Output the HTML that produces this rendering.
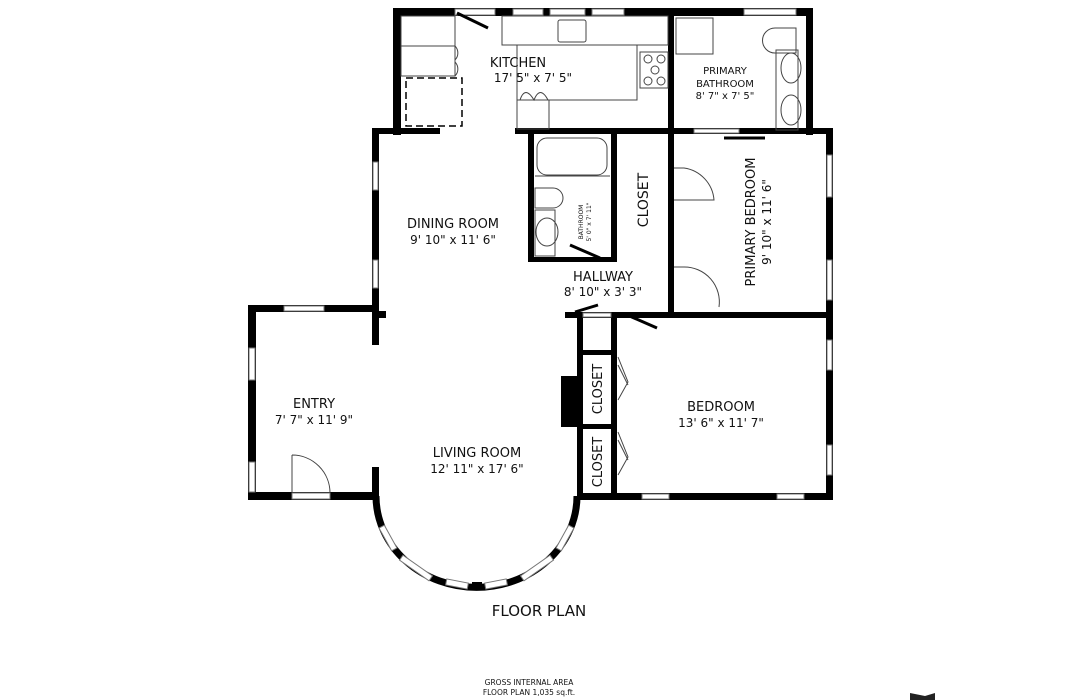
<!DOCTYPE html>
<html><head><style>
html,body{margin:0;padding:0;background:#fff;}
svg{display:block;}
text{font-family:"DejaVu Sans","Liberation Sans",sans-serif;fill:#111;}
</style></head><body>
<svg width="1080" height="700" viewBox="0 0 1080 700" xmlns="http://www.w3.org/2000/svg">
<rect width="1080" height="700" fill="#fff"/>
<g fill="#000">
<rect x="393" y="8" width="420" height="8"/>
<rect x="393" y="8" width="8" height="127"/>
<rect x="806" y="8" width="7" height="127"/>
<rect x="668" y="8" width="6" height="310"/>
<rect x="372" y="128" width="68" height="6"/>
<rect x="515" y="128" width="318" height="6"/>
<rect x="372" y="128" width="7" height="217"/>
<rect x="372" y="311" width="14" height="7"/>
<rect x="528" y="134" width="6" height="128"/>
<rect x="528" y="257" width="89" height="5"/>
<rect x="611" y="134" width="6" height="128"/>
<rect x="826" y="128" width="7" height="372"/>
<rect x="565" y="312" width="268" height="6"/>
<rect x="577" y="312" width="6" height="188"/>
<rect x="611" y="312" width="6" height="188"/>
<rect x="577" y="350" width="40" height="5"/>
<rect x="577" y="424" width="40" height="5"/>
<rect x="561" y="376" width="16" height="51"/>
<rect x="577" y="493" width="256" height="7"/>
<rect x="248" y="305" width="127" height="7"/>
<rect x="248" y="305" width="8" height="195"/>
<rect x="248" y="492" width="130" height="8"/>
<rect x="372" y="467" width="7" height="33"/>
</g>
<path d="M376 496 A99 90 0 0 0 577 496" fill="none" stroke="#000" stroke-width="7"/>
<rect x="472" y="582" width="10" height="8" fill="#000"/>
<g fill="#fff" stroke="#777" stroke-width="1">
<rect x="455" y="9" width="40" height="6"/>
<rect x="513" y="9" width="30" height="6"/>
<rect x="550" y="9" width="35" height="6"/>
<rect x="592" y="9" width="32" height="6"/>
<rect x="744" y="9" width="52" height="6"/>
<rect x="694" y="129" width="45" height="4"/>
<rect x="827" y="155" width="5" height="42"/>
<rect x="827" y="260" width="5" height="40"/>
<rect x="827" y="340" width="5" height="30"/>
<rect x="827" y="445" width="5" height="30"/>
<rect x="642" y="494" width="27" height="5"/>
<rect x="777" y="494" width="27" height="5"/>
<rect x="373" y="162" width="5" height="28"/>
<rect x="373" y="260" width="5" height="28"/>
<rect x="284" y="306" width="40" height="5"/>
<rect x="249" y="348" width="6" height="32"/>
<rect x="249" y="462" width="6" height="30"/>
<rect x="292" y="493" width="38" height="6"/>
<rect x="583" y="313" width="28" height="4"/>
</g>
<g fill="#fff" stroke="#777" stroke-width="1">
<rect x="-13" y="-3" width="26" height="6" transform="translate(388 538) rotate(61)"/>
<rect x="-18" y="-3" width="36" height="6" transform="translate(416 568) rotate(35)"/>
<rect x="-11" y="-3" width="22" height="6" transform="translate(457 584) rotate(11)"/>
<rect x="-11" y="-3" width="22" height="6" transform="translate(496 584) rotate(-11)"/>
<rect x="-18" y="-3" width="36" height="6" transform="translate(537 568) rotate(-35)"/>
<rect x="-13" y="-3" width="26" height="6" transform="translate(565 538) rotate(-61)"/>
</g>
<g fill="none" stroke="#444" stroke-width="1">
<rect x="401" y="16" width="54" height="30"/>
<rect x="401" y="46" width="54" height="30"/>
<rect x="406" y="78" width="56" height="48" stroke-dasharray="7,4" stroke="#000" stroke-width="1.5"/>
<path d="M455 46 A10 10 0 0 1 455 60 M455 76 A10 10 0 0 0 455 62"/>
<rect x="502" y="16" width="166" height="29"/>
<rect x="517" y="45" width="120" height="55"/>
<rect x="517" y="100" width="32" height="29"/>
<rect x="558" y="20" width="28" height="22" rx="2"/>
<rect x="640" y="52" width="28" height="36"/>
<circle cx="648" cy="59" r="4"/><circle cx="661" cy="59" r="4"/><circle cx="655" cy="70" r="4"/><circle cx="648" cy="81" r="4"/><circle cx="661" cy="81" r="4"/>
<path d="M520 100 Q525 85 534 100 Q540 85 548 100"/>
<rect x="676" y="18" width="37" height="36"/>
<path d="M775 28 h21 v25 h-21 a12 12 0 0 1 0 -25z"/>
<rect x="776" y="50" width="22" height="80"/>
<ellipse cx="791" cy="68" rx="10" ry="15"/>
<ellipse cx="791" cy="110" rx="10" ry="15"/>
<rect x="537" y="138" width="70" height="37" rx="10"/>
<path d="M535 176 h75"/>
<path d="M535 188 h18 a10 10 0 0 1 0 20 h-18z"/>
<rect x="535" y="210" width="20" height="46"/>
<ellipse cx="547" cy="232" rx="11" ry="14"/>
<path d="M674 168 h10 a35 35 0 0 1 30 32 h-40"/>
<path d="M674 267 h10 a35 35 0 0 1 35 40"/>
<path d="M292 455 a38 38 0 0 1 38 38 M292 455 v38"/>
<path d="M618 357 l10 25 l-10 18 M618 432 l10 25 l-10 18 M618 365 l10 20 M618 440 l10 20"/>
</g>
<g stroke="#000" stroke-width="3">
<line x1="457" y1="13" x2="488" y2="28"/>
<line x1="570" y1="245" x2="600" y2="258"/>
<line x1="575" y1="312" x2="598" y2="305"/>
<line x1="625" y1="314" x2="657" y2="328"/>
<line x1="724" y1="138" x2="765" y2="138"/>
</g>
<text x="518" y="67" font-size="13" text-anchor="middle">KITCHEN</text>
<text x="533" y="82" font-size="12" text-anchor="middle">17' 5" x 7' 5"</text>
<text x="725" y="74" font-size="10" text-anchor="middle">PRIMARY</text>
<text x="725" y="87" font-size="10" text-anchor="middle">BATHROOM</text>
<text x="725" y="99" font-size="10" text-anchor="middle">8' 7" x 7' 5"</text>
<text x="453" y="228" font-size="13" text-anchor="middle">DINING ROOM</text>
<text x="453" y="244" font-size="12" text-anchor="middle">9' 10" x 11' 6"</text>
<text x="603" y="281" font-size="13" text-anchor="middle">HALLWAY</text>
<text x="603" y="296" font-size="12" text-anchor="middle">8' 10" x 3' 3"</text>
<text transform="translate(648 200) rotate(-90)" font-size="14" text-anchor="middle">CLOSET</text>
<text transform="translate(755 222) rotate(-90)" font-size="13" text-anchor="middle">PRIMARY BEDROOM</text>
<text transform="translate(771 222) rotate(-90)" font-size="12" text-anchor="middle">9' 10" x 11' 6"</text>
<text transform="translate(583 222) rotate(-90)" font-size="6" text-anchor="middle">BATHROOM</text>
<text transform="translate(591 222) rotate(-90)" font-size="6" text-anchor="middle">5' 0" x 7' 11"</text>
<text x="314" y="408" font-size="13" text-anchor="middle">ENTRY</text>
<text x="314" y="424" font-size="12" text-anchor="middle">7' 7" x 11' 9"</text>
<text x="477" y="457" font-size="13" text-anchor="middle">LIVING ROOM</text>
<text x="477" y="473" font-size="12" text-anchor="middle">12' 11" x 17' 6"</text>
<text transform="translate(602 389) rotate(-90)" font-size="13" text-anchor="middle">CLOSET</text>
<text transform="translate(602 462) rotate(-90)" font-size="13" text-anchor="middle">CLOSET</text>
<text x="721" y="411" font-size="13" text-anchor="middle">BEDROOM</text>
<text x="721" y="427" font-size="12" text-anchor="middle">13' 6" x 11' 7"</text>
<text x="539" y="616" font-size="15" text-anchor="middle">FLOOR PLAN</text>
<text x="529" y="685" font-size="7.5" text-anchor="middle">GROSS INTERNAL AREA</text>
<text x="529" y="695" font-size="7.5" text-anchor="middle">FLOOR PLAN 1,035 sq.ft.</text>
<path d="M910 700 L910 693 L925 696 L935 693 L935 700Z" fill="#222"/>
</svg>
</body></html>
